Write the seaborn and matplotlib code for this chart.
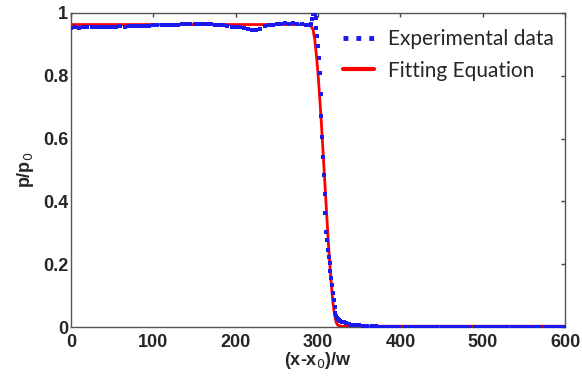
import numpy as np
import pandas as pd
import seaborn as sns
import matplotlib.pyplot as plt
from matplotlib.lines import Line2D

exp_x = ([0, 5, 10, 15, 20, 25, 30, 35, 40, 45, 50, 55, 60, 65, 70, 75, 80, 85, 90, 95,
          100, 105, 110, 115, 120, 125, 130, 135, 140, 145, 150, 155, 160, 165, 170, 175, 180, 185, 190, 195,
          200, 205, 210, 215, 220, 225, 230, 235, 240, 245,
          250, 255, 260, 265, 270, 275, 280, 285, 290,
          292, 293, 294, 295, 296, 297, 298, 299, 300, 301, 302, 303, 304, 305, 306, 307, 308, 309,
          310, 311, 312, 313, 314, 315, 316, 317, 318, 319, 320, 321, 322, 323, 324, 325, 327, 329,
          331, 334, 337, 340, 345, 350, 355, 360, 365, 370, 375, 380, 385, 390, 395, 400, 405, 410, 415, 420,
          425, 430, 435, 440, 445, 450, 455, 460, 465, 470, 475, 480, 485, 490, 495, 500, 505, 510, 515, 520,
          525, 530, 535, 540, 545, 550, 555, 560, 565, 570, 575, 580, 585, 590, 595, 600])
exp_y = ([0.953, 0.954, 0.953, 0.955, 0.954, 0.955, 0.954, 0.955, 0.956, 0.955, 0.956, 0.955, 0.957, 0.956,
          0.957, 0.958, 0.957, 0.958, 0.958, 0.959,
          0.960, 0.960, 0.961, 0.962, 0.962, 0.963, 0.963, 0.964, 0.965, 0.965, 0.966, 0.965, 0.966, 0.965,
          0.964, 0.963, 0.962, 0.960, 0.958, 0.956,
          0.955, 0.955, 0.952, 0.949, 0.947, 0.946, 0.948, 0.958, 0.960, 0.962,
          0.964, 0.966, 0.967, 0.965, 0.968, 0.966, 0.964, 0.963, 0.960,
          0.965, 0.980, 0.995, 1.000, 0.995, 0.983, 0.951, 0.928, 0.896, 0.856, 0.808, 0.742, 0.673, 0.606,
          0.542, 0.484, 0.424, 0.362,
          0.304, 0.277, 0.247, 0.224, 0.203, 0.179, 0.155, 0.134, 0.109, 0.086, 0.065, 0.044, 0.036, 0.030,
          0.027, 0.024, 0.020, 0.017,
          0.015, 0.012, 0.010, 0.008, 0.007, 0.006, 0.005, 0.004, 0.003, 0.003, 0.002, 0.002, 0.001, 0.001,
          0.001, 0.001, 0.001, 0.001, 0.000, 0.000,
          0.000, 0.000, 0.000, 0.000, 0.000, 0.000, 0.000, 0.000, 0.000, 0.000, 0.000, 0.000, 0.000, 0.000,
          0.000, 0.000, 0.000, 0.000, 0.000, 0.000,
          0.000, 0.000, 0.000, 0.000, 0.000, 0.000, 0.000, 0.000, 0.000, 0.000, 0.000, 0.000, 0.000, 0.000,
          0.000, 0.000])

# fitting equation
fit_x = [0, 100, 200, 285, 290, 292, 294, 296, 298, 300, 302, 304, 306, 308, 310, 312, 314, 316,
         318, 320, 322, 324, 328, 340, 600]
fit_y = [0.963, 0.963, 0.963, 0.963, 0.960, 0.956, 0.946, 0.915, 0.865, 0.805, 0.73, 0.65, 0.56,
         0.47, 0.38, 0.29, 0.21, 0.14, 0.08, 0.04, 0.015, 0.006, 0.003, 0.003, 0.003]

exp = pd.DataFrame({'x': exp_x, 'y': exp_y})
fit = pd.DataFrame({'x': fit_x, 'y': fit_y})

sns.set_style('white')
plt.rcParams['font.family'] = ['Liberation Sans', 'DejaVu Sans']

fig = plt.figure(figsize=(5.82, 3.8), dpi=100)
ax = fig.add_axes([0.122, 0.139, 0.849, 0.827])

sns.lineplot(x='x', y='y', data=fit, color='#ff0000', linewidth=2, ax=ax, zorder=2)
sns.scatterplot(x='x', y='y', data=exp, color='#1a1aee', marker='s', s=9, linewidth=0, ax=ax, zorder=3)

ax.set_xlim(0, 600)
ax.set_ylim(0, 1)
ax.set_xticks(range(0, 601, 100))
ax.set_yticks([0, 0.2, 0.4, 0.6, 0.8, 1])
ax.set_yticklabels(['0', '0.2', '0.4', '0.6', '0.8', '1'])
ax.tick_params(direction='in', length=3, width=1, color='#444444', top=True, right=True,
               labelsize=13, pad=2)
ax.tick_params(axis='x', pad=5)
for lab in ax.get_xticklabels() + ax.get_yticklabels():
    lab.set_fontweight('bold')
for sp in ax.spines.values():
    sp.set_color('#555555')
    sp.set_linewidth(1)

ax.set_xlabel('(x-x$_0$)/w', fontsize=13, fontweight='bold', labelpad=-1)
ax.set_ylabel('p/p$_0$', fontsize=13, fontweight='bold', labelpad=5)

handles = [Line2D([], [], color='#1a1aee', linestyle=':', linewidth=3.5),
           Line2D([], [], color='#ff0000', linewidth=3)]
ax.legend(handles, ['Experimental data', 'Fitting Equation'], loc='upper right', frameon=False,
          prop={'family': 'Lato', 'size': 15}, handlelength=1.5, handletextpad=0.7,
          borderaxespad=0.0, labelspacing=0.55, bbox_to_anchor=(0.995, 0.975))

fig.savefig('out.png', dpi=100)
